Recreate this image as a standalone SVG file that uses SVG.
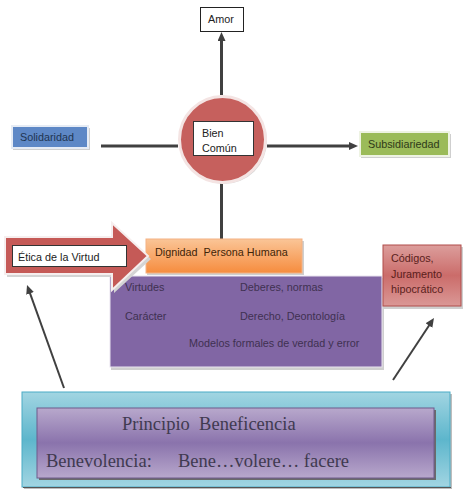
<svg xmlns="http://www.w3.org/2000/svg" width="467" height="499" viewBox="0 0 467 499">
<defs>
<style>
.t{font-family:"Liberation Sans",Arial,sans-serif;font-size:10.8px}
.s{font-family:"Liberation Serif","Times New Roman",serif;font-size:18.5px;fill:#403A50}
.shadow{fill:#cfcfcf}
.ln{stroke:#404040;stroke-width:3;fill:none}
.dg{stroke:#404040;stroke-width:2;fill:none}
</style>
<marker id="ah" markerUnits="userSpaceOnUse" markerWidth="10" markerHeight="9" refX="4" refY="4" orient="auto">
<path d="M0,0 L9,4 L0,8 z" fill="#404040"/>
</marker>
<linearGradient id="gOr" x1="0" y1="0" x2="0" y2="1">
<stop offset="0" stop-color="#FAC597"/>
<stop offset="1" stop-color="#F68C3E"/>
</linearGradient>
<linearGradient id="gCod" x1="0" y1="0" x2="0" y2="1">
<stop offset="0" stop-color="#DC9E9C"/>
<stop offset="0.5" stop-color="#CB6C6A"/>
<stop offset="1" stop-color="#DA9896"/>
</linearGradient>
<linearGradient id="gTeal" x1="0" y1="0" x2="0" y2="1">
<stop offset="0" stop-color="#A2D5E2"/>
<stop offset="0.5" stop-color="#5DB6CC"/>
<stop offset="1" stop-color="#A2D5E2"/>
</linearGradient>
<linearGradient id="gPur" x1="0" y1="0" x2="0" y2="1">
<stop offset="0" stop-color="#B8A8CC"/>
<stop offset="0.5" stop-color="#8A73AC"/>
<stop offset="1" stop-color="#B8A8CC"/>
</linearGradient>
</defs>
<rect width="467" height="499" fill="#ffffff"/>

<g id="connectors">
<line class="ln" x1="221.5" y1="95" x2="221.5" y2="37" marker-end="url(#ah)"/>
<line class="ln" x1="101" y1="146" x2="178" y2="146"/>
<line class="ln" x1="267" y1="146" x2="353" y2="146" marker-end="url(#ah)"/>
<line class="ln" x1="221.5" y1="183" x2="221.5" y2="240"/>
<line class="dg" x1="64" y1="388" x2="28.7" y2="289.7" marker-end="url(#ah)"/>
<line class="dg" x1="393" y1="380" x2="431.2" y2="322.2" marker-end="url(#ah)"/>
</g>

<g id="amor">
<rect x="200.5" y="7.5" width="43" height="24" fill="#ffffff" stroke="#222" stroke-width="1"/>
<text class="t" x="208" y="23" fill="#222">Amor</text>
</g>

<g id="bien-comun">
<circle cx="224" cy="141" r="43" fill="#d8d8d8"/>
<circle cx="222.5" cy="139.5" r="43" fill="#C6605D" stroke="#F4E4E3" stroke-width="3"/>
<rect x="193.5" y="121.5" width="60" height="34" fill="#ffffff" stroke="#333" stroke-width="1"/>
<text class="t" x="202" y="136.5" fill="#222">Bien</text>
<text class="t" x="202" y="152" fill="#222">Común</text>
</g>

<g id="solidaridad">
<rect x="13" y="128" width="77" height="22" class="shadow"/>
<rect x="12" y="126" width="76" height="22" fill="#5E88C6" stroke="#E6ECF5" stroke-width="2"/>
<text class="t" x="20" y="140.5" fill="#1F3552">Solidaridad</text>
</g>

<g id="subsidiariedad">
<rect x="361" y="134" width="90" height="24" class="shadow"/>
<rect x="360" y="132" width="89" height="24" fill="#9BBB59" stroke="#EEF3E3" stroke-width="2"/>
<text class="t" x="368" y="147.5" fill="#2F3A18">Subsidiariedad</text>
</g>

<g id="valores">
<rect x="111" y="278" width="273" height="92" class="shadow"/>
<rect x="110" y="276" width="272" height="91" fill="#8166A4" stroke="#E9E4F0" stroke-width="1"/>
<text class="t" x="125" y="291" fill="#3F3151">Virtudes</text>
<text class="t" x="240" y="291" fill="#3F3151">Deberes, normas</text>
<text class="t" x="125" y="319.5" fill="#3F3151">Carácter</text>
<text class="t" x="240" y="319.5" fill="#3F3151">Derecho, Deontología</text>
<text class="t" x="189" y="346.5" fill="#3F3151">Modelos formales de verdad y error</text>
</g>

<g id="dignidad">
<rect x="147" y="241" width="157" height="34" class="shadow"/>
<rect x="146" y="239" width="156" height="34" fill="url(#gOr)" stroke="#F4B183" stroke-width="1"/>
<text class="t" x="155" y="255.5" fill="#3E2408" xml:space="preserve">Dignidad  Persona Humana</text>
</g>

<g id="etica-virtud">
<polygon points="7,240 114,240 114,226 151,259 114,293 114,277 7,277" fill="#d4d4d4"/>
<polygon points="5,237 112,237 112,223 148,256 112,290 112,274 5,274" fill="#C55A57" stroke="#F6EEEE" stroke-width="2" stroke-linejoin="miter"/>
<rect x="12.5" y="245.5" width="114" height="21" fill="#ffffff" stroke="#333" stroke-width="1"/>
<text class="t" x="18" y="261" fill="#222">Ética de la Virtud</text>
</g>

<g id="codigos">
<rect x="384" y="247" width="79" height="62" fill="#cfcfcf"/>
<rect x="383" y="245" width="78" height="61" fill="url(#gCod)" stroke="#B04D4A" stroke-width="1"/>
<text class="t" x="391" y="262" fill="#5A1E1C">Códigos,</text>
<text class="t" x="391" y="278" fill="#5A1E1C">Juramento</text>
<text class="t" x="391" y="293" fill="#5A1E1C">hipocrático</text>
</g>

<g id="principio-beneficencia">
<rect x="24" y="394" width="428" height="95" fill="#bdbdbd"/>
<rect x="22" y="392" width="428" height="95" fill="url(#gTeal)" stroke="#4BACC6" stroke-width="1"/>
<line x1="23" y1="487.5" x2="451" y2="487.5" stroke="#555" stroke-width="1"/>
<rect x="39" y="410" width="397" height="70" fill="#6a6a6a"/>
<rect x="37" y="408" width="397" height="70" fill="url(#gPur)" stroke="#6E5A8C" stroke-width="1"/>
<text class="s" x="122" y="430" xml:space="preserve">Principio  Beneficencia</text>
<text class="s" x="46" y="467">Benevolencia:</text>
<text class="s" x="178" y="467">Bene…volere… facere</text>
</g>
</svg>
